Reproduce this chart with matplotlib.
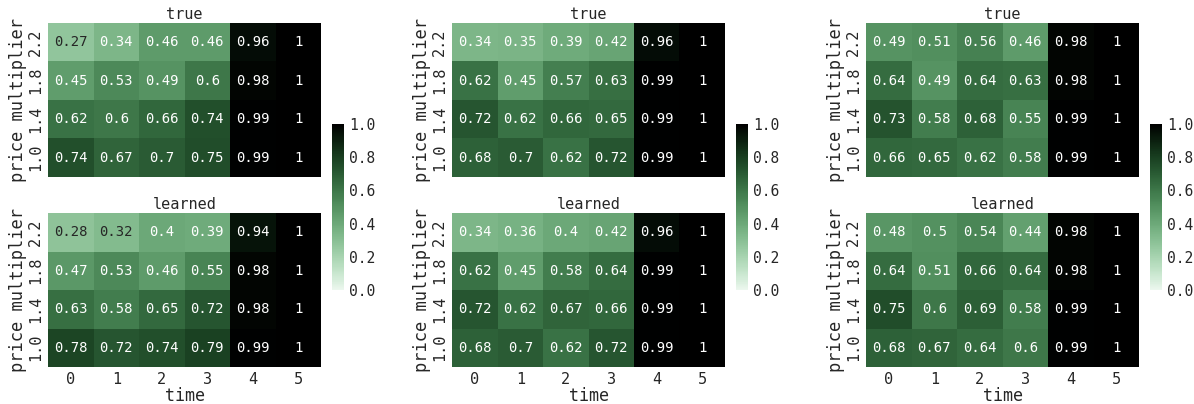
import matplotlib
matplotlib.use('Agg')
import matplotlib.pyplot as plt
import seaborn as sns
import numpy as np

sns.set_style('white')
plt.rcParams['font.family'] = ['DejaVu Sans Mono']

times = [0, 1, 2, 3, 4, 5]
prices = ['2.2', '1.8', '1.4', '1.0']

true_1 = [[0.27, 0.34, 0.46, 0.46, 0.96, 1],
          [0.45, 0.53, 0.49, 0.60, 0.98, 1],
          [0.62, 0.60, 0.66, 0.74, 0.99, 1],
          [0.74, 0.67, 0.70, 0.75, 0.99, 1]]
learned_1 = [[0.28, 0.32, 0.40, 0.39, 0.94, 1],
             [0.47, 0.53, 0.46, 0.55, 0.98, 1],
             [0.63, 0.58, 0.65, 0.72, 0.98, 1],
             [0.78, 0.72, 0.74, 0.79, 0.99, 1]]
true_2 = [[0.34, 0.35, 0.39, 0.42, 0.96, 1],
          [0.62, 0.45, 0.57, 0.63, 0.99, 1],
          [0.72, 0.62, 0.66, 0.65, 0.99, 1],
          [0.68, 0.70, 0.62, 0.72, 0.99, 1]]
learned_2 = [[0.34, 0.36, 0.40, 0.42, 0.96, 1],
             [0.62, 0.45, 0.58, 0.64, 0.99, 1],
             [0.72, 0.62, 0.67, 0.66, 0.99, 1],
             [0.68, 0.70, 0.62, 0.72, 0.99, 1]]
true_3 = [[0.49, 0.51, 0.56, 0.46, 0.98, 1],
          [0.64, 0.49, 0.64, 0.63, 0.98, 1],
          [0.73, 0.58, 0.68, 0.55, 0.99, 1],
          [0.66, 0.65, 0.62, 0.58, 0.99, 1]]
learned_3 = [[0.48, 0.50, 0.54, 0.44, 0.98, 1],
             [0.64, 0.51, 0.66, 0.64, 0.98, 1],
             [0.75, 0.60, 0.69, 0.58, 0.99, 1],
             [0.68, 0.67, 0.64, 0.60, 0.99, 1]]

groups = [(true_1, learned_1), (true_2, learned_2), (true_3, learned_3)]
lefts = [48, 452, 866]  # pixel x of heatmap left edges

cmap = sns.cubehelix_palette(start=2, rot=0, dark=0, light=.95, as_cmap=True)

W, H = 1194, 404
fig = plt.figure(figsize=(W / 100, H / 100), dpi=100)

for (tr, le), x0 in zip(groups, lefts):
    ax_t = fig.add_axes([x0 / W, 1 - 177 / H, 273 / W, 154 / H])
    ax_l = fig.add_axes([x0 / W, 1 - 367 / H, 273 / W, 154 / H])
    cax = fig.add_axes([(x0 + 284) / W, 1 - 290 / H, 12 / W, 166 / H])
    for ax, data, title in [(ax_t, tr, 'true'), (ax_l, le, 'learned')]:
        sns.heatmap(np.array(data), ax=ax, cmap=cmap, vmin=0, vmax=1,
                    annot=True, fmt='.2g', annot_kws={'size': 10},
                    xticklabels=times, yticklabels=prices,
                    cbar=(ax is ax_t), cbar_ax=cax if ax is ax_t else None)
        ax.set_title(title, fontsize=11, pad=3)
        ax.set_ylabel('price multiplier', fontsize=12.3, labelpad=0.5)
        ax.tick_params(length=0, labelsize=11)
        ax.set_yticklabels(prices, rotation=90, va='center')
    ax_t.set_xticklabels([])
    ax_t.set_xlabel('')
    ax_l.set_xticklabels(times, rotation=0)
    ax_l.set_xlabel('time', fontsize=12, labelpad=0)
    cax.tick_params(length=0, labelsize=10.5)
    cax.set_yticks([0, 0.2, 0.4, 0.6, 0.8, 1.0])

fig.savefig('out.png', dpi=100)
